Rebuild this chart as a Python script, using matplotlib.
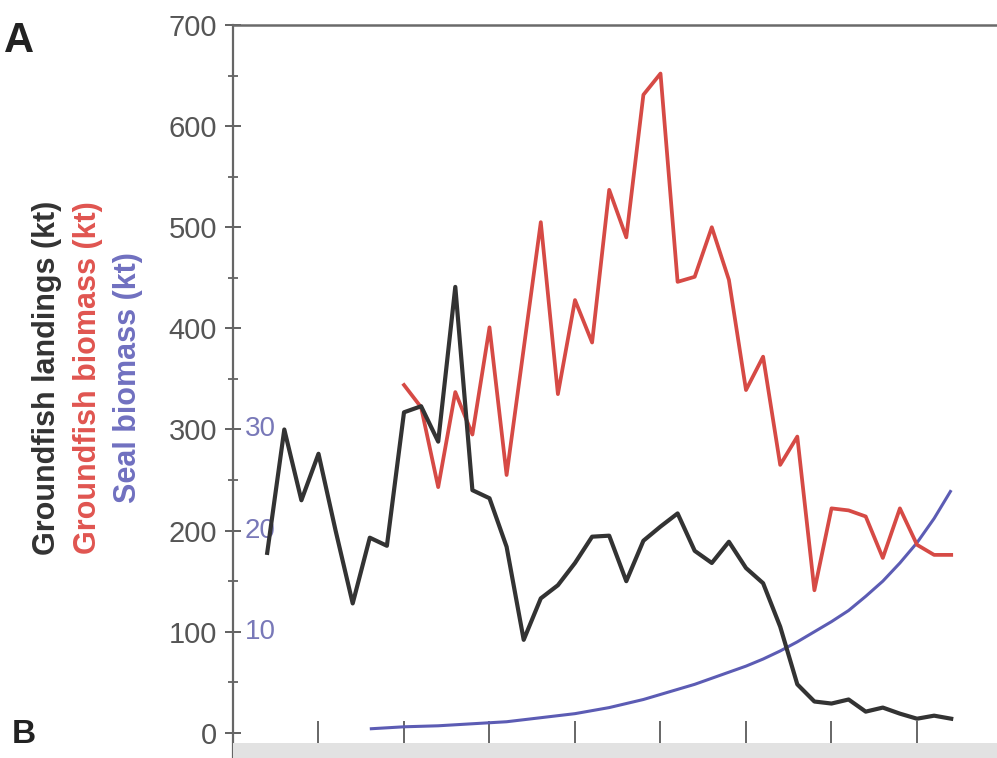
import matplotlib
matplotlib.use("Agg")
import matplotlib.pyplot as plt
from matplotlib.patches import Rectangle
import matplotlib.transforms as mtransforms
from matplotlib.ticker import MultipleLocator

plt.rcParams['font.family'] = ['Liberation Sans', 'DejaVu Sans']

# ---- data ----
landing_years = list(range(1962, 2003))
landings = [178, 300, 230, 276, 200, 128, 193, 185, 317, 323,
            288, 441, 240, 232, 184, 92, 133, 146, 168, 194,
            195, 150, 190, 204, 217, 180, 168, 189, 163, 148,
            105, 48, 31, 29, 33, 21, 25, 19, 14, 17, 14]

biomass_years = list(range(1970, 2003))
groundfish_biomass = [344, 322, 243, 337, 295, 401, 255, 380, 505, 335,
                      428, 386, 537, 490, 631, 652, 446, 451, 500, 448,
                      339, 372, 265, 293, 141, 222, 220, 214, 173, 222,
                      186, 176, 176]

seal_years = list(range(1968, 2003))
seal_biomass = [0.4, 0.5, 0.6, 0.65, 0.7, 0.8, 0.9, 1.0, 1.1, 1.3,
                1.5, 1.7, 1.9, 2.2, 2.5, 2.9, 3.3, 3.8, 4.3, 4.8,
                5.4, 6.0, 6.6, 7.3, 8.1, 9.0, 10.0, 11.0, 12.1, 13.5,
                15.0, 16.8, 18.8, 21.2, 24.0]

x_ticks = [1965, 1970, 1975, 1980, 1985, 1990, 1995, 2000]
y_ticks = [0, 100, 200, 300, 400, 500, 600, 700]
seal_ticks = [10, 20, 30]
seal_scale = 10  # seal axis unit shown on left scale

# ---- figure ----
W, H = 997, 758
fig = plt.figure(figsize=(W / 100, H / 100), dpi=100)

left_px, top_px, bottom_px = 233, 25, 745
x0, x1 = 1960, 2006
px_per_year = 17.1
ax_w = (x1 - x0) * px_per_year
ax = fig.add_axes([left_px / W, 1 - bottom_px / H, ax_w / W, (bottom_px - top_px) / H])

# bottom grey band (next panel)
fig.patches.append(Rectangle((left_px / W, 0), 1 - left_px / W, (H - 743) / H,
                             transform=fig.transFigure, facecolor='#e2e2e2',
                             edgecolor='none', zorder=0))

c_black = '#333333'
c_red = '#d64a45'
c_blue = '#5c5cb4'

ax.plot(seal_years, [v * seal_scale for v in seal_biomass], color=c_blue, lw=2.2,
        solid_capstyle='butt', zorder=2)
ax.plot(biomass_years, groundfish_biomass, color=c_red, lw=2.7, zorder=3)
ax.plot(landing_years, landings, color=c_black, lw=3.0, zorder=4)

ax.set_xlim(x0, x1)
ax.set_ylim(-12, 700)

ax.set_yticks(y_ticks)
ax.yaxis.set_minor_locator(MultipleLocator(50))
ax.set_xticks(x_ticks)
ax.set_xticklabels([])
ax.tick_params(axis='y', which='major', direction='inout', length=11, width=1.3,
               color='#555555', labelsize=21, labelcolor='#555555', pad=6)
ax.tick_params(axis='y', which='minor', direction='inout', length=7, width=1.2,
               color='#555555')
ax.tick_params(axis='x', which='major', direction='in', length=17, width=1.4,
               color='#666666', bottom=True, top=False)

for side in ['right', 'bottom']:
    ax.spines[side].set_visible(False)
ax.spines['left'].set_color('#666666')
ax.spines['left'].set_linewidth(1.6)
ax.spines['top'].set_color('#6a6a6a')
ax.spines['top'].set_linewidth(1.8)
ax.spines['left'].set_bounds(-30, 700)
ax.spines['left'].set_clip_on(False)

# seal-scale labels on the inside of the spine
trans = mtransforms.blended_transform_factory(ax.transAxes, ax.transData)
for s in seal_ticks:
    ax.text(12 / ax_w, s * seal_scale, str(s), transform=trans, ha='left',
            va='center', fontsize=20, color='#7878b8', zorder=1)

# rotated axis titles
yc = 1 - 378 / H
fig.text(47 / W, yc, 'Groundfish landings (kt)', rotation=90, ha='center',
         va='center', fontsize=22, fontweight='bold', color='#333333')
fig.text(88 / W, yc, 'Groundfish biomass (kt)', rotation=90, ha='center',
         va='center', fontsize=22, fontweight='bold', color='#e05550')
fig.text(128 / W, yc, 'Seal biomass (kt)', rotation=90, ha='center',
         va='center', fontsize=22, fontweight='bold', color='#7070c0')

# panel letters
fig.text(34 / W, 1 - 52 / H, 'A', ha='right', va='baseline', fontsize=30,
         fontweight='bold', color='#222222')
fig.text(36 / W, 1 - 750 / H, 'B', ha='right', va='bottom', fontsize=24,
         fontweight='bold', color='#222222')

fig.savefig('out.png', dpi=100)
